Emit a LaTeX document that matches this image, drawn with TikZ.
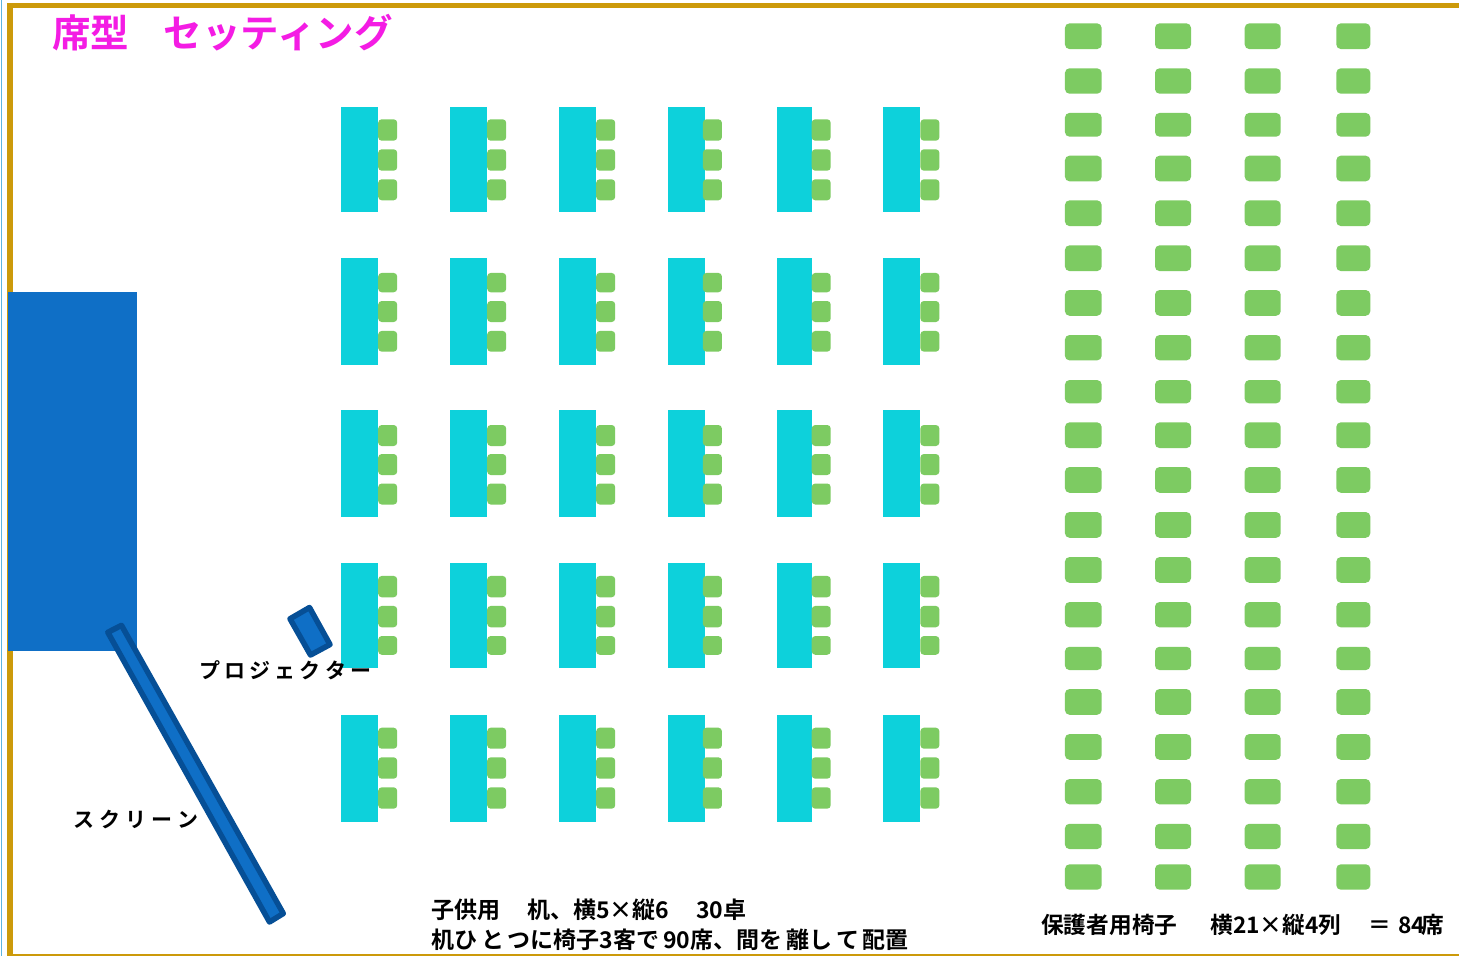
\documentclass[tikz,border=0pt]{standalone}
\usepackage{fontspec}
\setmainfont{Noto Sans CJK JP Bold}
\newfontfamily\boldjp{Noto Sans CJK JP Bold}
\definecolor{frameor}{HTML}{CC9A0A}
\definecolor{stageblue}{HTML}{0F6FC6}
\definecolor{edgeblue}{HTML}{064F96}
\definecolor{deskcy}{HTML}{0DD1DB}
\definecolor{chairgr}{HTML}{7DCB62}
\definecolor{titlemg}{HTML}{F41CE4}
\definecolor{edgeline}{HTML}{5DB5E0}
\tikzset{
 desk/.style={fill=deskcy,draw=none,inner sep=0pt,rectangle},
 kidchair/.style={fill=chairgr,draw=none,rounded corners=3.5pt,inner sep=0pt,minimum width=19pt,rectangle},
 adultchair/.style={fill=chairgr,draw=none,rounded corners=4.5pt,inner sep=0pt,rectangle},
 lbl/.style={inner sep=0pt,anchor=west,font=\fontsize{23}{23}\selectfont},
 tag/.style={inner sep=0pt,anchor=west,font=\boldjp\fontsize{21}{21}\selectfont},
 equip/.style={fill=stageblue,draw=edgeblue,line width=5.5pt,line join=round},
}
\begin{document}
\begin{tikzpicture}[x=1pt,y=-1pt]
\useasboundingbox (0,0) rectangle (1459,956);
\fill[white] (0,0) rectangle (1459,956);
% outer frame
\fill[frameor] (7,3) rectangle (1459,7.5);
\fill[frameor] (7,3) rectangle (12.5,956);
\fill[frameor] (7,954) rectangle (1459,956);
\fill[edgeline] (0.6,0) rectangle (2,956);
% stage
\node[fill=stageblue,inner sep=0pt,minimum width=129.5pt,minimum height=359pt,anchor=north west] (stage) at (7.5,292) {};
% desks and chairs
\foreach \cx/\dw/\ch [count=\c] in {341/37/378,450/37/487,559/37/596,668/37/702.7,777/35/811.5,883/37/920.2}{
 \foreach \ry/\rh/\sa/\ha/\sb/\hb/\sc/\hc [count=\r] in {
   107/105/130/21.4/160/21.4/189.8/21,
   258/107/282.6/19.3/311.5/21/341.3/20.7,
   410/107/435.5/21/464.5/21/494/21,
   563/105/586.6/21.3/616.6/21.3/645.4/18.7,
   715/107/738.2/21/768/21.4/798/21.4}{
  \node[desk,minimum width=\dw pt,minimum height=\rh pt,anchor=north west] (d\c-\r) at (\cx,\ry) {};
  \node[kidchair,minimum height=\ha pt,anchor=west] (k\c-\r-1) at (\ch,\sa) {};
  \node[kidchair,minimum height=\hb pt,anchor=west] (k\c-\r-2) at (\ch,\sb) {};
  \node[kidchair,minimum height=\hc pt,anchor=west] (k\c-\r-3) at (\ch,\sc) {};
 }
}
% parent chairs
\foreach \cx/\cw [count=\c] in {1083.3/36.7,1173/36,1262.7/36,1353.3/34}{
 \foreach \py/\ph [count=\r] in {36.2/25.7,81/25.4,124.8/23.7,168.5/25.6,213.2/25.7,258.2/25.7,302.9/25.7,347.7/25.3,391.7/23.3,435.2/25.7,479.9/25.7,524.9/25.7,569.9/25.7,614.7/25.3,658.4/23.3,701.9/25.7,746.9/25.7,791.7/25.3,836.4/25.3,877/25.4}{
  \node[adultchair,minimum width=\cw pt,minimum height=\ph pt] (p\c-\r) at (\cx,\py) {};
 }
}
% projector & screen
\coordinate (pa) at (290,618.8);
\coordinate (pb) at (309.5,607.5);
\coordinate (pc) at (330,644.5);
\coordinate (pd) at (310.5,655);
\draw[equip] (pa)--(pb)--(pc)--(pd)--cycle;
\coordinate (sa) at (107.8,632.3);
\coordinate (sb) at (121.5,625.4);
\coordinate (sc) at (283.3,913.5);
\coordinate (sd) at (269.5,922);
\draw[equip] (sa)--(sb)--(sc)--(sd)--cycle;
% texts
\node[inner sep=0pt,anchor=west,text=titlemg,font=\boldjp\fontsize{38.5}{38.5}\selectfont] (title) at (52,33) {席型\hspace{0.9em}セッティング};
\node[tag] (proj) at (199,670) {プ\hspace{0.2em}ロ\hspace{0.2em}ジ\hspace{0.2em}ェ\hspace{0.2em}ク\hspace{0.2em}タ\hspace{0.2em}ー};
\node[tag] (scr) at (73,819) {ス\hspace{0.24em}ク\hspace{0.24em}リ\hspace{0.24em}ー\hspace{0.24em}ン};
\node[lbl] (n1) at (431,910) {子供用\hspace{1.17em}机、横5×縦6\hspace{1.17em}30卓};
\node[lbl] (n2) at (431,940) {机ひ\,と\,つに椅子3客で\,90席、間を\,離し\,て\,配置};
\node[lbl,font=\fontsize{22.7}{23}\selectfont] (n3) at (1041,925) {保護者用椅子\hspace{1.45em}横21×縦4列\hspace{1.2em}＝\hspace{0.3em}84\hspace{-0.15em}席};
\end{tikzpicture}
\end{document}
